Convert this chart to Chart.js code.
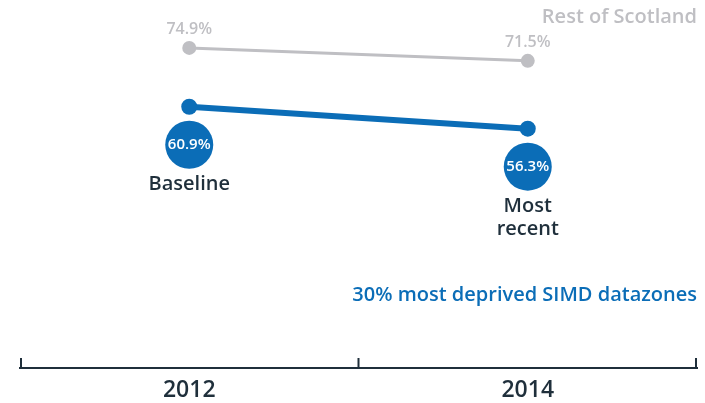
<!DOCTYPE html>
<html>
<meta charset="UTF-8">
<head>
    <title>Rest of Scotland vs 30% most deprived SIMD datazones</title>
    <script src="https://cdn.jsdelivr.net/npm/chart.js"></script>
    <style>
        html, body { margin: 0; padding: 0; background: #fff; }
        #chartContainer { width: 705px; height: 403px; position: relative; }
    </style>
</head>
<body>
<div id="chartContainer">
    <canvas id="chart"></canvas>
</div>

<script>
    // данные
    const years = ['2012', '2014'];
    const restOfScotland = [74.9, 71.5];
    const deprived = [60.9, 56.3];
    const pointNotes = [['Baseline'], ['Most', 'recent']];

    const GREY = '#bfbfc3';
    const BLUE = '#0b6db7';
    const DARK = '#1f2f3b';
    const FONT = '"Open Sans", "Noto Sans", sans-serif';

    // подписи, кружки и насечки оси
    const decorPlugin = {
        id: 'decor',
        afterDatasetsDraw(chart) {
            const ctx = chart.ctx;
            const x = chart.scales.x;
            const greyMeta = chart.getDatasetMeta(0);
            const blueMeta = chart.getDatasetMeta(1);

            ctx.save();
            ctx.textAlign = 'center';
            ctx.textBaseline = 'middle';

            // серые подписи значений
            ctx.fillStyle = GREY;
            ctx.font = '600 16px ' + FONT;
            greyMeta.data.forEach((pt, i) => {
                ctx.fillText(restOfScotland[i].toFixed(1) + '%', pt.x, pt.y - 18);
            });

            // синие кружки
            blueMeta.data.forEach((pt, i) => {
                const cy = pt.y + 38;
                ctx.fillStyle = BLUE;
                ctx.beginPath();
                ctx.arc(pt.x, cy, 24, 0, Math.PI * 2);
                ctx.fill();
                ctx.fillStyle = '#fff';
                ctx.font = '600 15px ' + FONT;
                ctx.fillText(deprived[i].toFixed(1) + '%', pt.x, cy);

                ctx.fillStyle = DARK;
                ctx.font = '600 20px ' + FONT;
                pointNotes[i].forEach((line, j) => {
                    ctx.fillText(line, pt.x, cy + 40 + j * 23);
                });
            });

            // легенды
            ctx.textAlign = 'right';
            ctx.font = '600 20px ' + FONT;
            ctx.fillStyle = GREY;
            ctx.fillText('Rest of Scotland', chart.chartArea.right, 17);
            ctx.fillStyle = BLUE;
            ctx.fillText('30% most deprived SIMD datazones', chart.chartArea.right, 295);

            // насечки оси
            const bottom = chart.chartArea.bottom;
            const mid = (x.getPixelForValue(0) + x.getPixelForValue(1)) / 2;
            ctx.strokeStyle = DARK;
            ctx.lineWidth = 2;
            [x.left + 1, mid, x.right - 1].forEach(px => {
                ctx.beginPath();
                ctx.moveTo(px, bottom);
                ctx.lineTo(px, bottom - 10);
                ctx.stroke();
            });
            ctx.restore();
        }
    };

    const ctx = document.getElementById('chart').getContext('2d');
    new Chart(ctx, {
        type: 'line',
        data: {
            labels: years,
            datasets: [{
                label: 'Rest of Scotland',
                data: restOfScotland,
                yAxisID: 'y',
                borderColor: GREY,
                backgroundColor: GREY,
                borderWidth: 3,
                pointRadius: 7,
                pointBorderWidth: 0,
                fill: false
            }, {
                label: '30% most deprived SIMD datazones',
                data: deprived,
                yAxisID: 'y2',
                borderColor: BLUE,
                backgroundColor: BLUE,
                borderWidth: 6,
                pointRadius: 8,
                pointBorderWidth: 0,
                fill: false
            }]
        },
        options: {
            responsive: true,
            maintainAspectRatio: false,
            animation: false,
            layout: { padding: { left: 20, right: 7, top: 0, bottom: 0 } },
            plugins: { legend: { display: false }, tooltip: { enabled: false } },
            scales: {
                x: {
                    offset: true,
                    grid: { display: false },
                    border: { display: true, color: DARK, width: 2 },
                    afterFit(scale) { scale.height = 35; },
                    ticks: {
                        color: DARK,
                        padding: 1,
                        font: { family: FONT, size: 23, weight: '600' }
                    }
                },
                y: { display: false, min: -9.04, max: 85.36 },
                y2: { display: false, min: 6.12, max: 81.6 }
            }
        },
        plugins: [decorPlugin]
    });
</script>
</body>
</html>
